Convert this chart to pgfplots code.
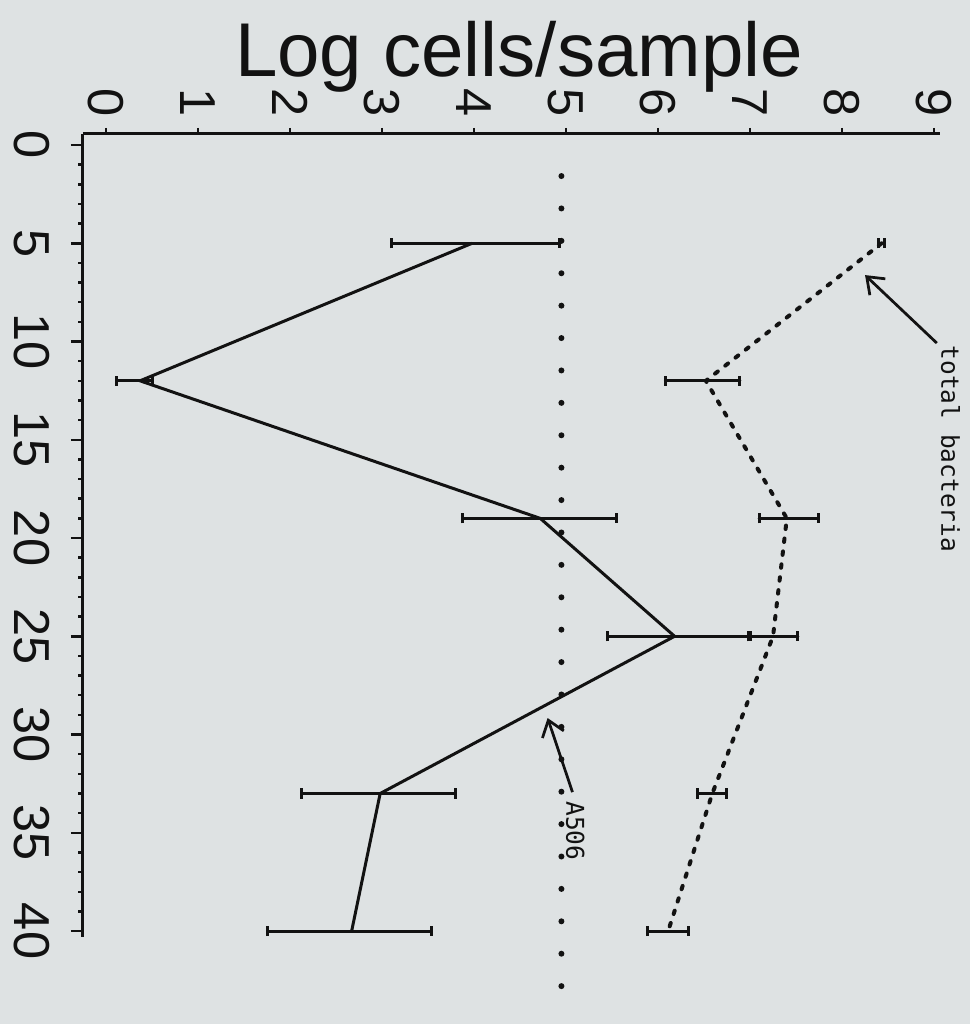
\documentclass[border=0pt]{standalone}
\usepackage{pgfplots}
\pgfplotsset{compat=1.18}
\usepackage{pgfplotstable}
\usepackage{fontspec}
\setmainfont{Liberation Sans}
\newfontfamily\annofont{DejaVu Sans Mono}
\usetikzlibrary{arrows.meta}
\definecolor{paper}{RGB}{222,226,227}
\definecolor{ink}{RGB}{18,18,18}
\pagecolor{paper}

% A506: log cells/sample by day, error bars
\pgfplotstableread{
day  mean  ep    em
5    3.98  0.95  0.88
12   0.37  0.14  0.26
19   4.72  0.83  0.84
25   6.18  0.82  0.73
33   2.98  0.82  0.85
40   2.67  0.87  0.92
}\asix

% total bacteria
\pgfplotstableread{
day  mean  ep    em
5    8.43  0.03  0.03
12   6.52  0.37  0.44
19   7.40  0.34  0.30
25   7.25  0.27  0.27
33   6.59  0.15  0.16
40   6.11  0.22  0.22
}\total

\begin{document}
\begin{tikzpicture}
\begin{axis}[
    x=36.8pt, y=7.86pt,
    y dir=reverse,
    xmin=-0.25, xmax=9.07,
    ymin=-0.56, ymax=40.3,
    axis x line*=top,
    axis y line*=left,
    clip=false,
    axis line style={ink, line width=1.2pt},
    tick align=outside,
    xtick={0,1,...,9},
    ytick={0,5,...,40},
    minor y tick num=4,
    tick style={ink, line width=1pt},
    xtick style={/pgfplots/major tick length=2.4pt},
    ytick style={/pgfplots/major tick length=4.8pt, /pgfplots/minor tick length=1.8pt},
    /pgf/number format/assume math mode=true,
    ticklabel style={font=\fontsize{20.2}{24}\selectfont, text=ink},
    xticklabel style={yshift=-1pt, rotate=-90, anchor=east},
    yticklabel style={xshift=-5.6pt, rotate=-90, anchor=north},
]

% detection level, dotted
\addplot[ink, line width=2.4pt, line cap=round, dash pattern=on 0pt off 12.96pt, forget plot]
    coordinates {(4.95,1.58) (4.95,44.4)};

% A506
\addplot[ink, line width=1.2pt,
    error bars/.cd, x dir=both, x explicit,
    error bar style={line width=1.2pt, solid},
    error mark=|,
    error mark options={mark size=2pt, line width=1.2pt, solid},
] table[x=mean, y=day, x error plus=ep, x error minus=em] {\asix};

% total bacteria
\addplot[ink, line width=1.6pt, line cap=round, dash pattern=on 1.4pt off 3.8pt,
    error bars/.cd, x dir=both, x explicit,
    error bar style={line width=1.2pt, solid},
    error mark=|,
    error mark options={mark size=2pt, line width=1.2pt, solid},
] table[x=mean, y=day, x error plus=ep, x error minus=em] {\total};

\node[font=\fontsize{30.5}{36}\selectfont, text=ink, anchor=base] at (axis cs:4.49,-3.5) {Log cells/sample};

\node[font=\annofont\fontsize{9.8}{11}\selectfont, text=ink, rotate=-90] at (axis cs:9.18,15.47) {total bacteria};
\draw[ink, line width=1.1pt, -{Straight Barb[length=6pt,width=9pt]}] (axis cs:9.03,10.08) -- (axis cs:8.25,6.62);

\node[font=\annofont\fontsize{9.8}{11}\selectfont, text=ink, rotate=-90] at (axis cs:5.10,34.9) {A506};
\draw[ink, line width=1.1pt, -{Straight Barb[length=6pt,width=9pt]}] (axis cs:5.07,32.93) -- (axis cs:4.80,29.16);

\coordinate (bl) at (axis cs:-1.152,44.73);
\coordinate (tr) at (axis cs:9.391,-7.379);
\end{axis}
\pgfresetboundingbox
\path[use as bounding box] (bl) rectangle (tr);
\end{tikzpicture}
\end{document}
